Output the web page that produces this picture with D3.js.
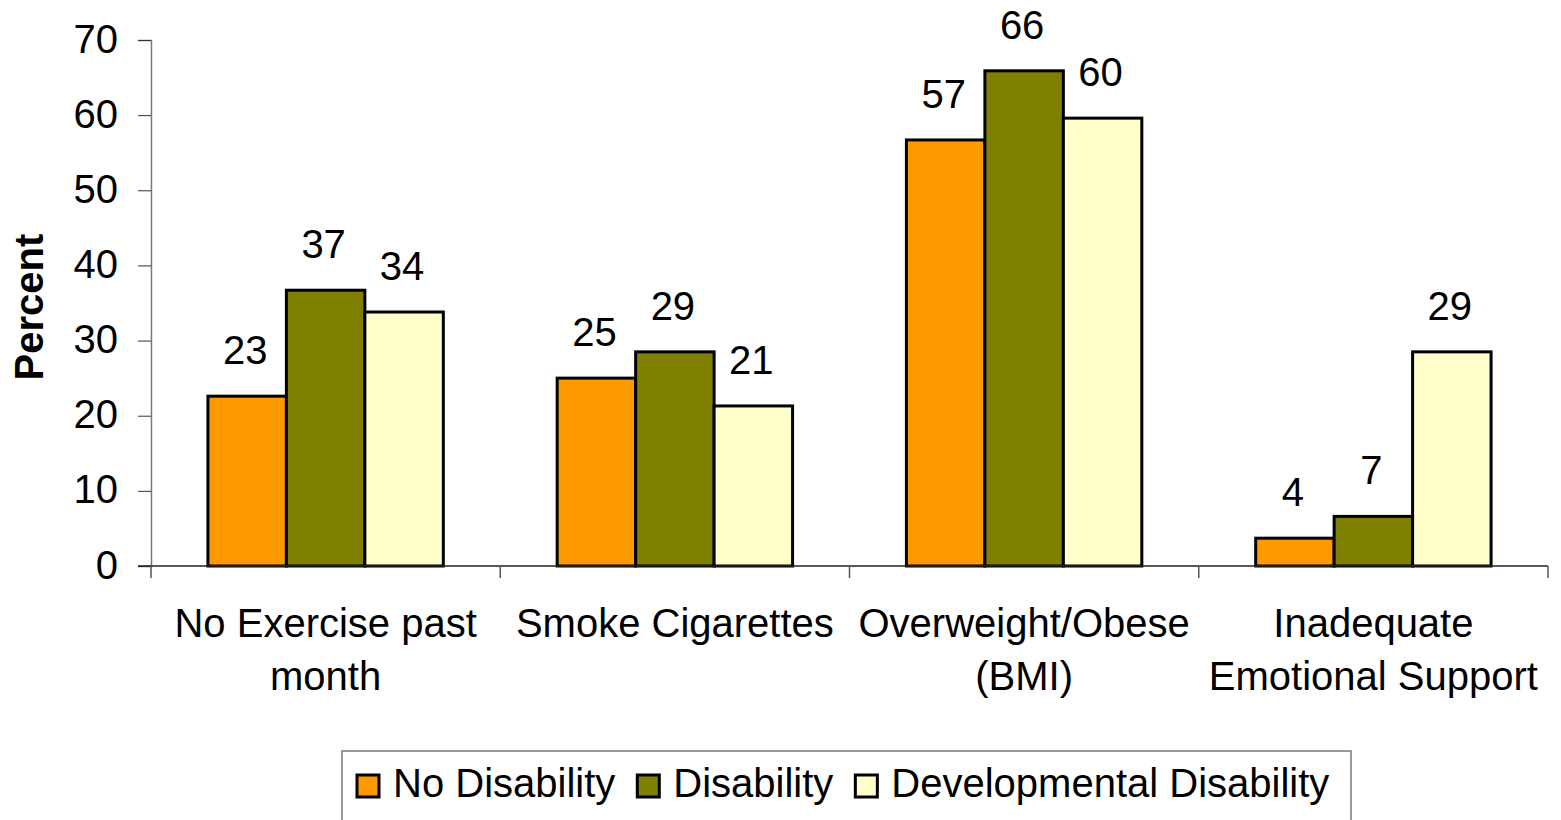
<!DOCTYPE html>
<html>
<head>
<meta charset="utf-8">
<script src="https://cdn.jsdelivr.net/npm/d3@7"></script>
<style>
  html, body { margin: 0; padding: 0; background: #fff; }
  svg { display: block; font-family: 'Liberation Sans', Arial, sans-serif; }
</style>
</head>
<body>
<svg id="chart"></svg>
<script>
// data
const categories = ['No Exercise past month', 'Smoke Cigarettes', 'Overweight/Obese (BMI)', 'Inadequate Emotional Support'];
const categoryLines = [['No Exercise past', 'month'], ['Smoke Cigarettes'], ['Overweight/Obese', '(BMI)'], ['Inadequate', 'Emotional Support']];
const seriesNames = ['No Disability', 'Disability', 'Developmental Disability'];
const noDisability = [22.6, 25.0, 56.7, 3.7];
const disability = [36.7, 28.5, 65.9, 6.6];
const devDisability = [33.8, 21.3, 59.6, 28.5];
const yTicks = [0, 10, 20, 30, 40, 50, 60, 70];

const seriesValues = [noDisability, disability, devDisability];
const colors = ['#FF9900', '#808000', '#FFFFCC'];

const W = 1561, H = 820;
const margin = { top: 40, right: 13, bottom: 254, left: 151 };
const width = W - margin.left - margin.right;
const height = H - margin.top - margin.bottom;

const svg = d3.select('#chart').attr('width', W).attr('height', H);
const g = svg.append('g').attr('transform', `translate(${margin.left},${margin.top})`);

const x = d3.scaleBand().domain(categories).range([0, width]).padding(0);
const gap = x.bandwidth() * 0.163;
const x1 = d3.scaleBand().domain(seriesNames).range([gap, x.bandwidth() - gap]).padding(0);
const y = d3.scaleLinear().domain([0, 70]).range([height, 0]);

// Y axis
const yAxis = g.append('g')
  .call(d3.axisLeft(y).tickValues(yTicks).tickSize(13).tickPadding(20));
yAxis.select('.domain').attr('stroke', '#777').attr('stroke-width', 1.5);
yAxis.selectAll('.tick line').attr('stroke', '#333');
yAxis.selectAll('text')
  .style('font-size', '40px')
  .attr('fill', '#000')
  .attr('dy', '0.3em');

g.append('text')
  .attr('transform', `translate(${-108},${y(35) + 4}) rotate(-90)`)
  .attr('text-anchor', 'middle')
  .style('font-size', '40px')
  .style('font-weight', 'bold')
  .text('Percent');

// bars
const rows = categories.map((c, i) => ({ cat: c, vals: seriesNames.map((s, j) => ({ s, v: seriesValues[j][i], c: colors[j] })) }));

const groups = g.selectAll('.grp').data(rows).enter().append('g')
  .attr('class', 'grp')
  .attr('transform', d => `translate(${x(d.cat)},0)`);

groups.selectAll('rect').data(d => d.vals).enter().append('rect')
  .attr('x', d => x1(d.s))
  .attr('y', d => y(d.v))
  .attr('width', x1.bandwidth())
  .attr('height', d => y(0) - y(d.v))
  .attr('fill', d => d.c)
  .attr('stroke', '#000')
  .attr('stroke-width', 3);

groups.selectAll('.lbl').data(d => d.vals).enter().append('text')
  .attr('class', 'lbl')
  .attr('x', d => x1(d.s) + x1.bandwidth() / 2 - 2)
  .attr('y', d => y(d.v) - 32)
  .attr('text-anchor', 'middle')
  .style('font-size', '40px')
  .text(d => Math.round(d.v));

// X axis
g.append('line')
  .attr('x1', -13).attr('x2', width)
  .attr('y1', height).attr('y2', height)
  .attr('stroke', '#222').attr('stroke-width', 1.5);

const bounds = categories.map(c => x(c)).concat([x.range()[1]]);
g.selectAll('.xtick').data(bounds).enter().append('line')
  .attr('x1', d => d).attr('x2', d => d)
  .attr('y1', height).attr('y2', height + 12)
  .attr('stroke', '#555').attr('stroke-width', 1.5);

g.selectAll('.xlab').data(categoryLines).enter().append('text')
  .attr('text-anchor', 'middle')
  .style('font-size', '40px')
  .attr('transform', (d, i) => `translate(${x(categories[i]) + x.bandwidth() / 2},${height + 71})`)
  .selectAll('tspan').data(d => d).enter().append('tspan')
  .attr('x', 0)
  .attr('y', (d, i) => i * 53)
  .text(d => d);

// legend
const legend = svg.append('g');
legend.append('rect')
  .attr('x', 342).attr('y', 751)
  .attr('width', 1009).attr('height', 90)
  .attr('fill', '#fff')
  .attr('stroke', '#777').attr('stroke-width', 1.5);

let lx = 357;
seriesNames.forEach((s, i) => {
  legend.append('rect')
    .attr('x', lx).attr('y', 775)
    .attr('width', 22).attr('height', 22)
    .attr('fill', colors[i])
    .attr('stroke', '#000').attr('stroke-width', 3);
  const t = legend.append('text')
    .attr('x', lx + 36).attr('y', 797)
    .style('font-size', '40px')
    .text(s);
  lx += 36 + t.node().getComputedTextLength() + 22;
});
</script>
</body>
</html>
